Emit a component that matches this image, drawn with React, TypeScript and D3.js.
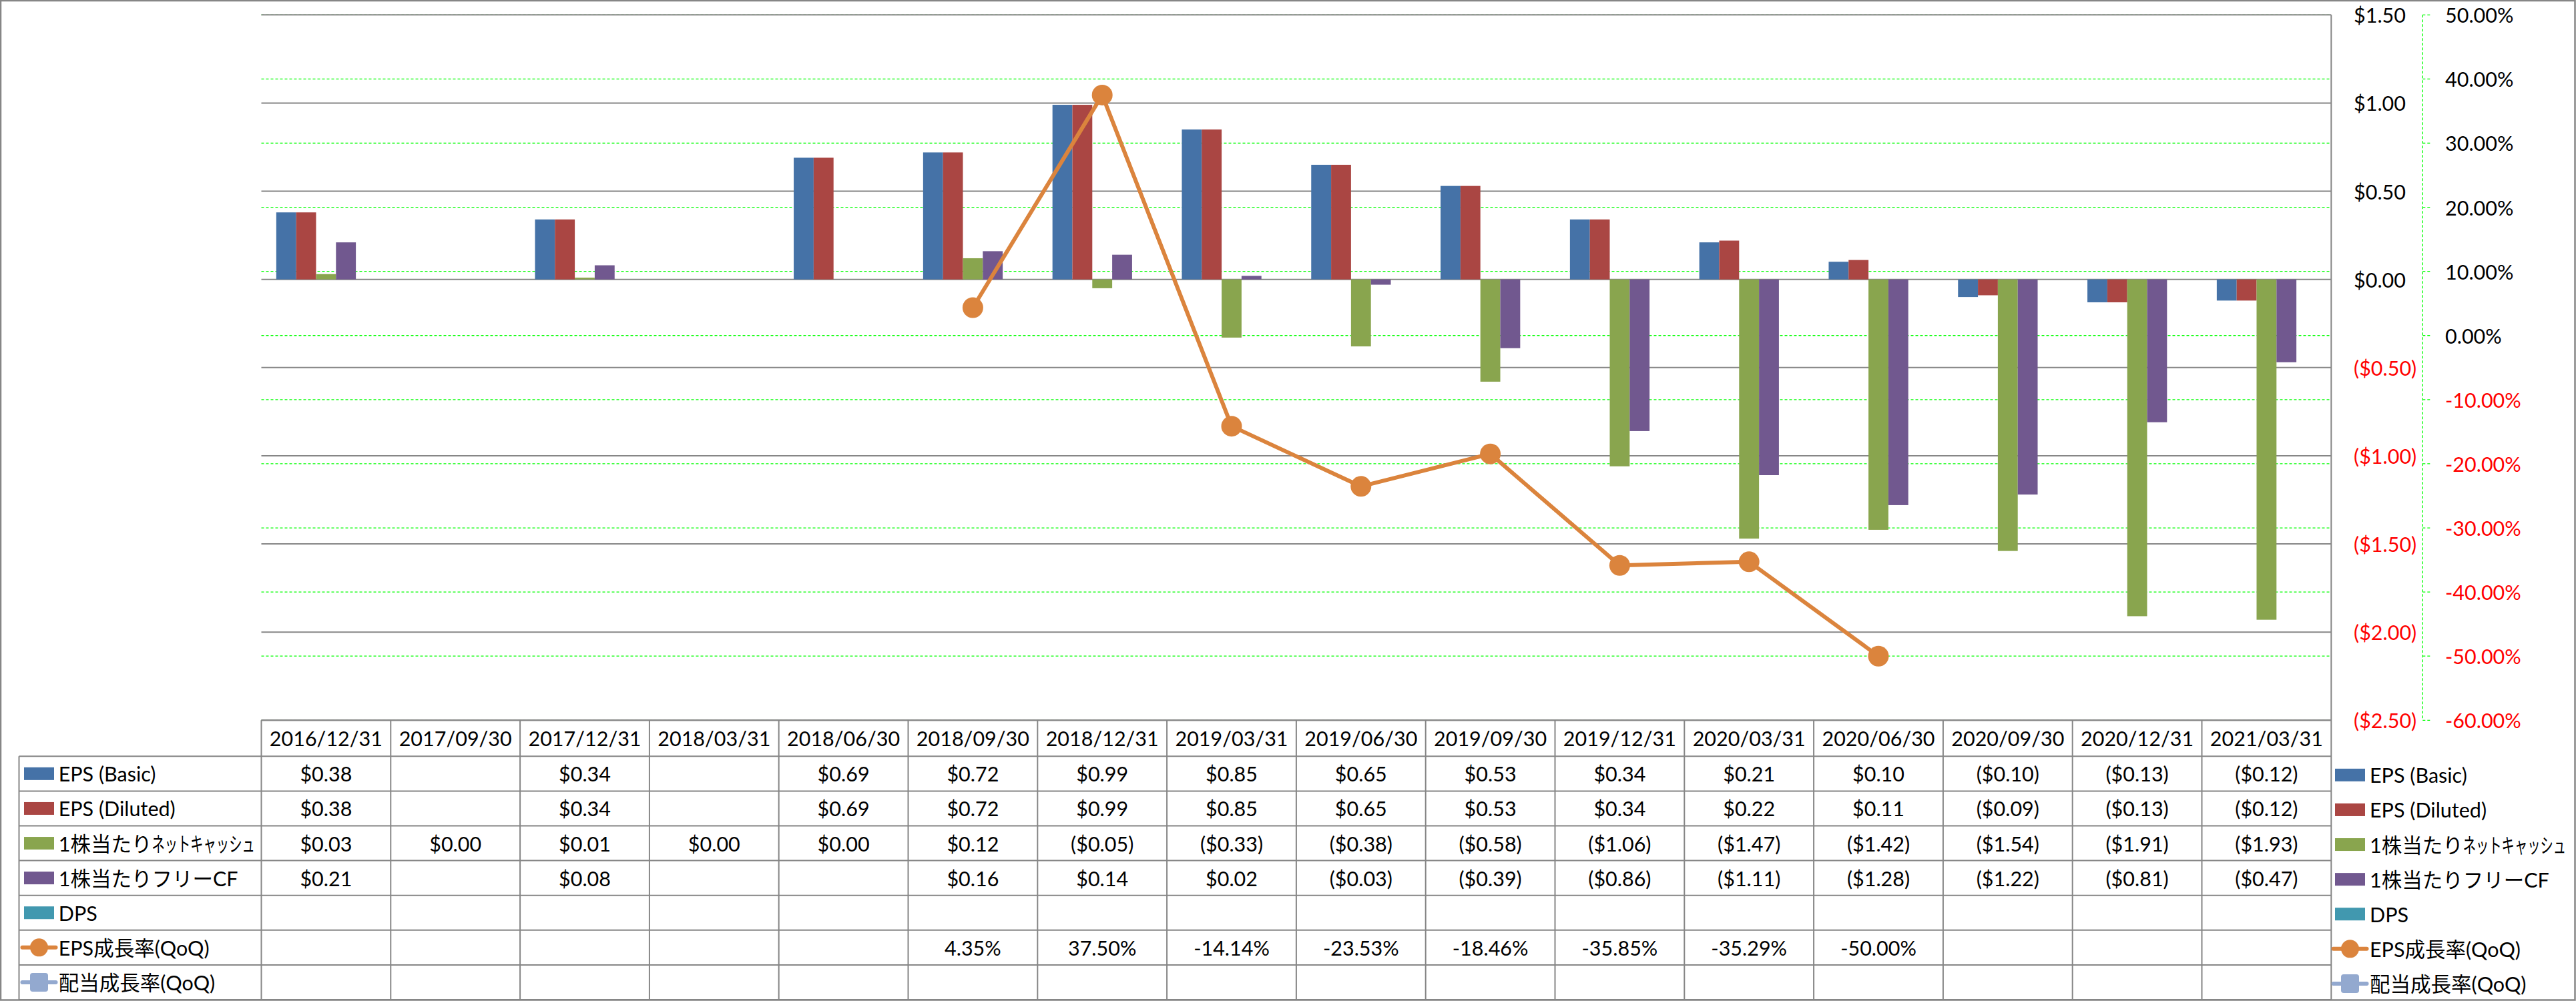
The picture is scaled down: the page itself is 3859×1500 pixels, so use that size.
import React, { useLayoutEffect, useRef, useState } from 'react';
import * as d3 from 'd3';

const categories = [
  '2016/12/31', '2017/09/30', '2017/12/31', '2018/03/31', '2018/06/30', '2018/09/30', '2018/12/31', '2019/03/31',
  '2019/06/30', '2019/09/30', '2019/12/31', '2020/03/31', '2020/06/30', '2020/09/30', '2020/12/31', '2021/03/31',
];

const epsBasic = [0.38, null, 0.34, null, 0.69, 0.72, 0.99, 0.85, 0.65, 0.53, 0.34, 0.21, 0.10, -0.10, -0.13, -0.12];
const epsDiluted = [0.38, null, 0.34, null, 0.69, 0.72, 0.99, 0.85, 0.65, 0.53, 0.34, 0.22, 0.11, -0.09, -0.13, -0.12];
const netCashPerShare = [0.03, 0.00, 0.01, 0.00, 0.00, 0.12, -0.05, -0.33, -0.38, -0.58, -1.06, -1.47, -1.42, -1.54, -1.91, -1.93];
const fcfPerShare = [0.21, null, 0.08, null, null, 0.16, 0.14, 0.02, -0.03, -0.39, -0.86, -1.11, -1.28, -1.22, -0.81, -0.47];
const dps = [null, null, null, null, null, null, null, null, null, null, null, null, null, null, null, null];
const epsGrowth = [null, null, null, null, null, 4.35, 37.5, -14.14, -23.53, -18.46, -35.85, -35.29, -50.0, null, null, null];
const dpsGrowth = [null, null, null, null, null, null, null, null, null, null, null, null, null, null, null, null];

const leftTicks = [1.5, 1.0, 0.5, 0, -0.5, -1.0, -1.5, -2.0, -2.5];
const rightTicks = [50, 40, 30, 20, 10, 0, -10, -20, -30, -40, -50, -60];

const barSeries = [
  { name: 'EPS (Basic)', color: '#4572A7', values: epsBasic },
  { name: 'EPS (Diluted)', color: '#AA4643', values: epsDiluted },
  { name: '1株当たりネットキャッシュ', color: '#89A54E', values: netCashPerShare, fit: 294 },
  { name: '1株当たりフリーCF', color: '#71588F', values: fcfPerShare },
  { name: 'DPS', color: '#4198AF', values: dps },
];
const lineSeries = [
  { name: 'EPS成長率(QoQ)', color: '#DB843D', values: epsGrowth, marker: 'circle' },
  { name: '配当成長率(QoQ)', color: '#93A9CF', values: dpsGrowth, marker: 'square' },
];

const W = 3859;
const H = 1500;
const plotLeft = 391.5;
const plotRight = 3492.3;
const plotTop = 22.3;
const plotBottom = 1079.3;
const headerBottom = 1133.3;
const tableBottom = 1498;
const rowH = (tableBottom - headerBottom) / 7;
const legendColLeft = 28.5;
const fontSize = 30.5;
const gridGray = '#868686';
const gridGreen = '#00FF00';

const fmtMoney = (v: number) => (v < 0 ? `($${(-v).toFixed(2)})` : `$${v.toFixed(2)}`);
const fmtPct = (v: number) => `${v.toFixed(2)}%`;

const x = d3.scaleBand<string>().domain(categories).range([plotLeft, plotRight]);
const gap = (x.bandwidth() * 0.75) / 6.5;
const xInner = d3.scaleBand<string>().domain(barSeries.map(s => s.name)).range([gap, x.bandwidth() - gap]);
const yL = d3.scaleLinear().domain([-2.5, 1.5]).range([plotBottom, plotTop]);
const yR = d3.scaleLinear().domain([-60, 50]).range([plotBottom, plotTop]);

// the original draws the katakana of the long label narrow, so squeeze that run into the same span
const Label = ({ s, x: lx, y }: { s: any; x: number; y: number }) => {
  const pre = useRef<SVGTextElement>(null);
  const kana = useRef<SVGTextElement>(null);
  const [dims, setDims] = useState({ w: 140, k: 244 });
  const m = s.fit ? s.name.match(/^([^\u30A0-\u30FF]*)([\u30A0-\u30FF]+)$/) : null;

  useLayoutEffect(() => {
    if (!m) return;
    const measure = () => {
      if (pre.current && kana.current) {
        setDims({ w: pre.current.getComputedTextLength(), k: kana.current.getComputedTextLength() });
      }
    };
    measure();
    document.fonts?.ready.then(measure);
  }, []);

  if (!m) {
    return <text x={lx} y={y} dominantBaseline="central">{s.name}</text>;
  }
  const sx = (s.fit - dims.w) / dims.k;
  return (
    <g>
      <text ref={pre} x={lx} y={y} dominantBaseline="central">{m[1]}</text>
      <g transform={`translate(${lx + dims.w},${y}) scale(${sx},1)`}>
        <text ref={kana} x={0} y={0} dominantBaseline="central">{m[2]}</text>
      </g>
    </g>
  );
};

const LegendKey = ({ s, cx, cy }: { s: any; cx: number; cy: number }) => {
  if (s.marker === 'circle') {
    return (
      <g>
        <line x1={cx - 25} x2={cx + 25} y1={cy} y2={cy} stroke={s.color} strokeWidth={6} strokeLinecap="round" />
        <circle cx={cx} cy={cy} r={13.5} fill={s.color} />
      </g>
    );
  }
  if (s.marker === 'square') {
    return (
      <g>
        <line x1={cx - 25} x2={cx + 25} y1={cy} y2={cy} stroke={s.color} strokeWidth={6} strokeLinecap="round" />
        <rect x={cx - 13.5} y={cy - 14} width={27} height={28} rx={4} fill={s.color} />
      </g>
    );
  }
  return <rect x={cx - 22.5} y={cy - 9.5} width={45} height={19} fill={s.color} />;
};

const App = () => {
  const line = d3
    .line<number | null>()
    .defined(d => d != null)
    .x((_, i) => (x(categories[i]) as number) + x.bandwidth() / 2)
    .y(d => yR(d as number));

  const allRows = [...barSeries, ...lineSeries];

  return (
    <svg
      width={W}
      height={H}
      style={{ position: 'absolute', left: 0, top: 0, display: 'block', background: '#fff' }}
      fontFamily="Lato, 'Noto Sans CJK JP', sans-serif"
      fontSize={fontSize}
    >
      <rect x={0} y={0} width={W} height={H} fill="#fff" />

      {/* right axis gridlines (dashed green) */}
      {rightTicks.map(t => (
        <line key={'gg' + t} x1={plotLeft} x2={plotRight} y1={yR(t)} y2={yR(t)} stroke={gridGreen} strokeWidth={1.3} strokeDasharray="4 3" />
      ))}
      {/* left axis gridlines */}
      {leftTicks.map(t => (
        <line key={'gl' + t} x1={plotLeft} x2={plotRight} y1={yL(t)} y2={yL(t)} stroke={gridGray} strokeWidth={2} />
      ))}

      {/* bars */}
      {barSeries.map(s => (
        <g key={s.name} fill={s.color}>
          {s.values.map((v, i) =>
            v == null ? null : (
              <rect
                key={i}
                x={(x(categories[i]) as number) + (xInner(s.name) as number)}
                width={xInner.bandwidth()}
                y={Math.min(yL(v), yL(0))}
                height={Math.abs(yL(v) - yL(0))}
              />
            )
          )}
        </g>
      ))}

      {/* growth line */}
      <path d={line(epsGrowth) || ''} fill="none" stroke="#DB843D" strokeWidth={6} strokeLinejoin="round" />
      {epsGrowth.map((v, i) =>
        v == null ? null : (
          <circle key={i} cx={(x(categories[i]) as number) + x.bandwidth() / 2} cy={yR(v)} r={15.5} fill="#DB843D" />
        )
      )}

      {/* value axis line at the right of the plot */}
      <line x1={plotRight} x2={plotRight} y1={plotTop} y2={tableBottom} stroke={gridGray} strokeWidth={2} />

      {/* left ($) axis labels */}
      {leftTicks.map(t => (
        <text key={'lt' + t} x={3526} y={yL(t)} dominantBaseline="central" fill={t < 0 ? '#FF0000' : '#000'}>
          {fmtMoney(t)}
        </text>
      ))}

      {/* right (%) axis */}
      <line x1={3629.3} x2={3629.3} y1={plotTop} y2={plotBottom} stroke={gridGreen} strokeWidth={1.3} strokeDasharray="4 3" />
      {rightTicks.map(t => (
        <g key={'rt' + t}>
          <line x1={3629.3} x2={3641} y1={yR(t)} y2={yR(t)} stroke={gridGreen} strokeWidth={1.3} strokeDasharray="4 3" />
          <text x={3663} y={yR(t)} dominantBaseline="central" fill={t < 0 ? '#FF0000' : '#000'}>
            {fmtPct(t)}
          </text>
        </g>
      ))}

      {/* data table */}
      <g stroke={gridGray} strokeWidth={2}>
        <line x1={plotLeft} x2={plotRight} y1={plotBottom} y2={plotBottom} />
        {d3.range(8).map(r => (
          <line key={'hr' + r} x1={legendColLeft} x2={plotRight} y1={headerBottom + r * rowH} y2={headerBottom + r * rowH} />
        ))}
        <line x1={legendColLeft} x2={legendColLeft} y1={headerBottom} y2={tableBottom} />
        {categories.map(c => (
          <line key={'vc' + c} x1={x(c)} x2={x(c)} y1={plotBottom} y2={tableBottom} />
        ))}
      </g>
      {categories.map(c => (
        <text key={'hd' + c} x={(x(c) as number) + x.bandwidth() / 2} y={(plotBottom + headerBottom) / 2} textAnchor="middle" dominantBaseline="central">
          {c}
        </text>
      ))}
      {allRows.map((s: any, r) => {
        const cy = headerBottom + (r + 0.5) * rowH;
        const isPct = r >= barSeries.length;
        return (
          <g key={'row' + s.name}>
            <LegendKey s={s} cx={58.5} cy={cy} />
            <Label s={s} x={87.7} y={cy} />
            {s.values.map((v: number | null, i: number) =>
              v == null ? null : (
                <text key={i} x={(x(categories[i]) as number) + x.bandwidth() / 2} y={cy} textAnchor="middle" dominantBaseline="central">
                  {isPct ? fmtPct(v) : fmtMoney(v)}
                </text>
              )
            )}
            <LegendKey s={s} cx={3520.5} cy={cy + 2} />
            <Label s={s} x={3550} y={cy + 2} />
          </g>
        );
      })}

      {/* outer border */}
      <rect x={1} y={1} width={W - 2.5} height={tableBottom - 0.5} fill="none" stroke={gridGray} strokeWidth={2.5} />
    </svg>
  );
};

export default App;
